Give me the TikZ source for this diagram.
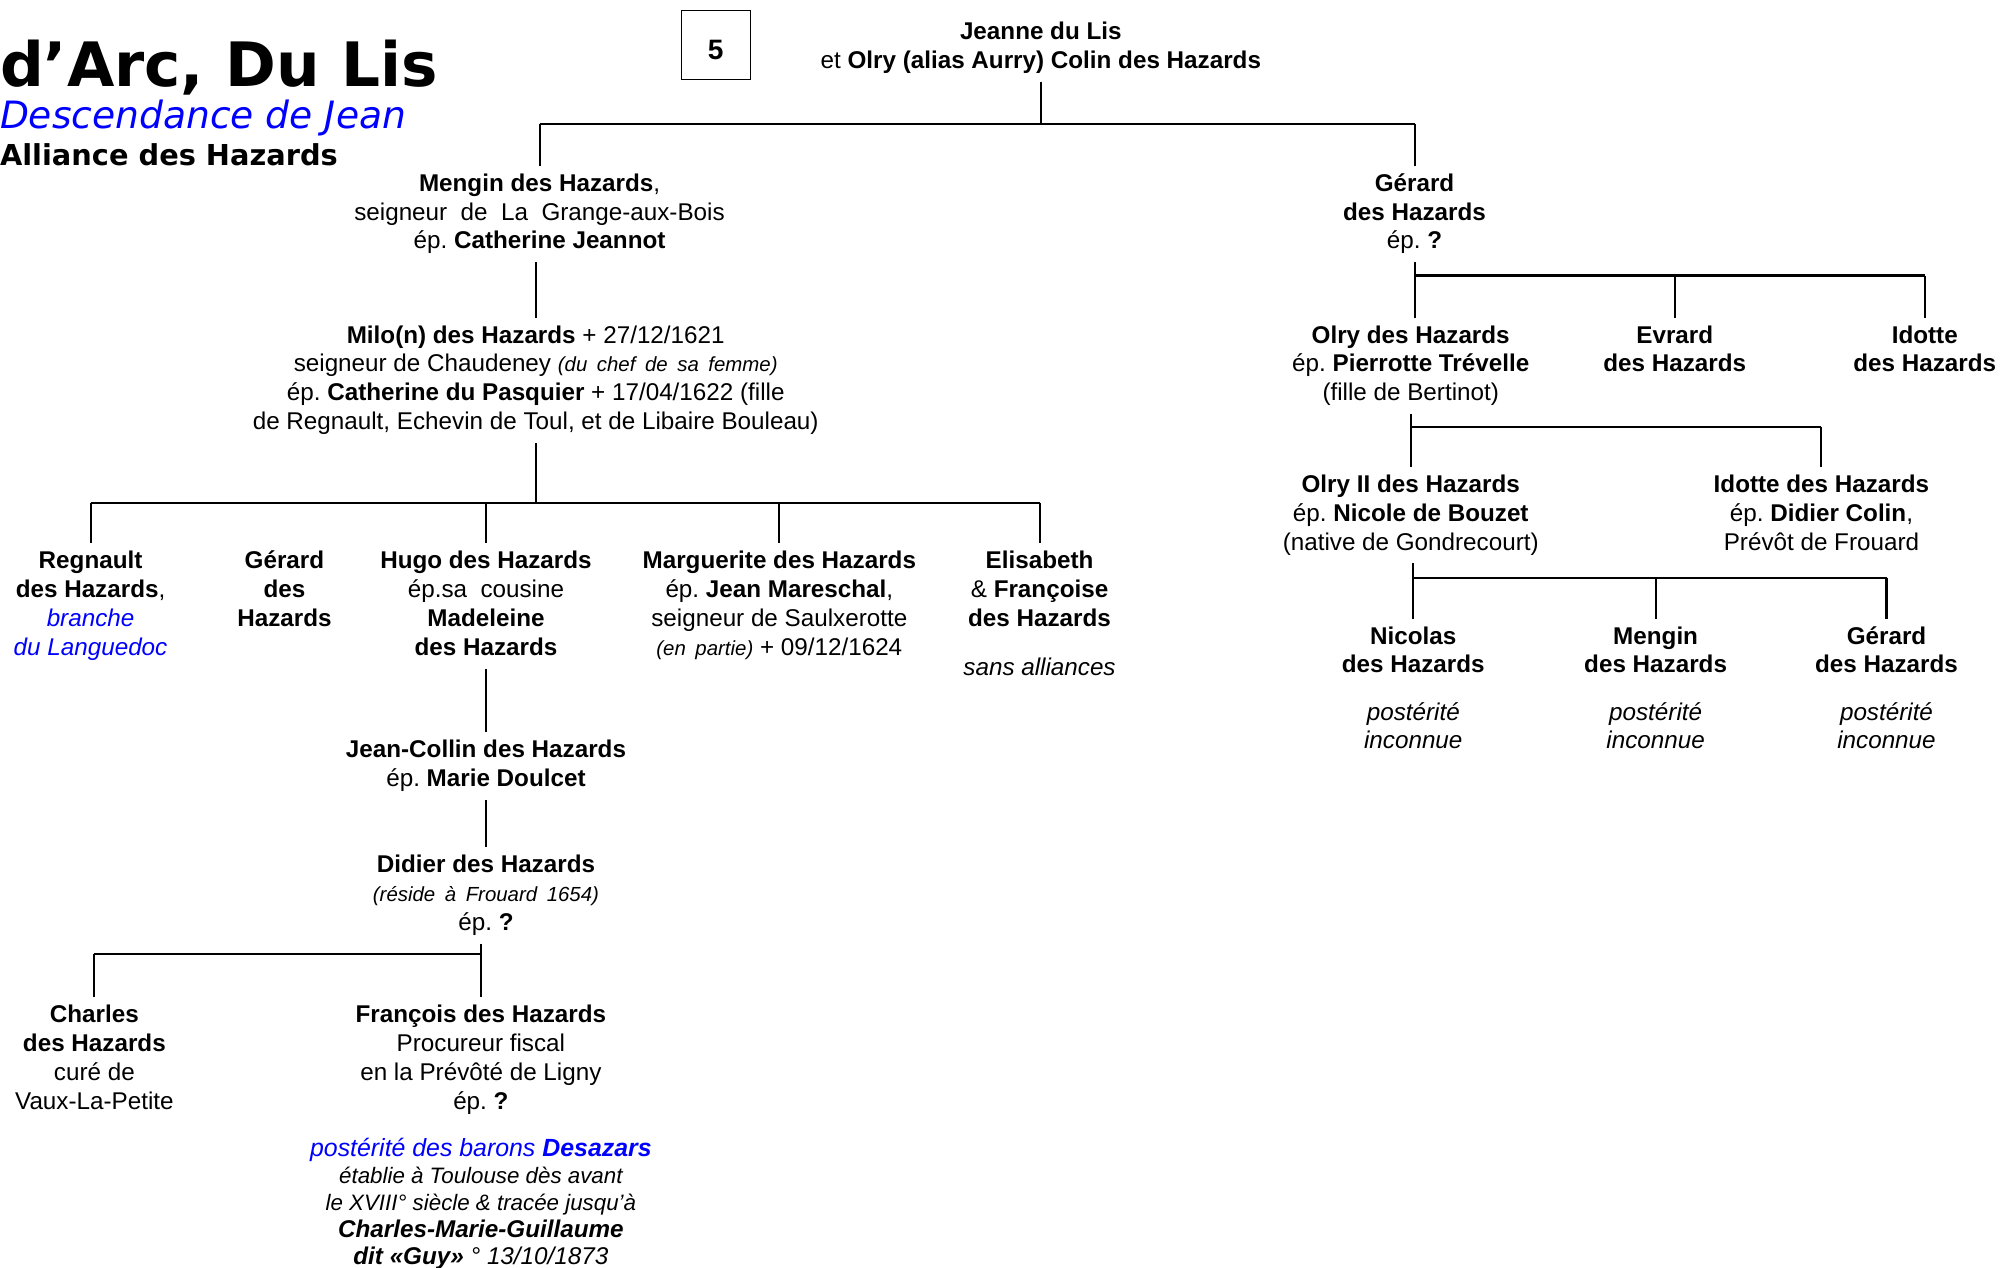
\documentclass[tikz,border=0pt]{standalone}
\usepackage{fontspec}
\setmainfont{Liberation Sans}
\newfontfamily\titlefont{DejaVu Sans}[ItalicFont={DejaVu Sans Oblique},BoldFont={DejaVu Sans Bold}]
\definecolor{lisblue}{RGB}{0,0,255}
\frenchspacing
\newcommand\tp{\rule{0pt}{14pt}}
\newcommand\bt{\rule[-4.5pt]{0pt}{4.5pt}}
\newcommand\smit{\fontsize{16}{22.6}\selectfont\itshape\spaceskip=7.5pt plus 1pt\relax}
\tikzset{
  person/.style={anchor=north, align=center, inner xsep=2pt, inner ysep=6pt, outer sep=0pt,
    font=\fontsize{19}{22.6}\selectfont, yshift=-2pt},
  link/.style={line width=1.6pt},
  titletext/.style={anchor=base west, inner sep=0pt, outer sep=0pt},
}
\begin{document}
\begin{tikzpicture}[x=1pt,y=-1pt]
\path[use as bounding box] (0,0) rectangle (1568,994);

% titles
\node[titletext, font=\titlefont\bfseries\fontsize{48}{50}\selectfont] (title) at (0,68) {d’Arc, Du Lis};
\node[titletext, text=lisblue, font=\titlefont\itshape\fontsize{29.5}{32}\selectfont] (sub) at (0,101) {Descendance de Jean};
\node[titletext, font=\titlefont\bfseries\fontsize{22.6}{24}\selectfont] (alliance) at (0,130) {Alliance des Hazards};
\node[draw, line width=0.8pt, minimum width=54, minimum height=54, inner sep=0pt] (num) at (561,35) {};
\node[inner sep=0pt, font=\bfseries\fontsize{22}{24}\selectfont, yshift=-4pt] (numtext) at (num.center) {5};

% bar levels
\coordinate (b0) at (0,97);
\coordinate (b1) at (0,394);
\coordinate (b2) at (0,748);
\coordinate (b3) at (0,216);
\coordinate (b4) at (0,335);
\coordinate (b5) at (0,453);

% persons
\node[person] (root) at (816,9) {\tp\textbf{Jeanne du Lis}\\et \textbf{Olry (alias Aurry) Colin des Hazards}\bt};
\node[person] (mengin) at (423,128) {\tp\textbf{Mengin des Hazards},\\seigneur~ de~ La~ Grange-aux-Bois\\ép. \textbf{Catherine Jeannot}\bt};
\node[person] (gerardA) at (1109,128) {\tp\textbf{Gérard}\\\textbf{des Hazards}\\ép. \textbf{?}\bt};
\node[person] (milo) at (420,247) {\tp\textbf{Milo(n) des Hazards} + 27/12/1621\\seigneur de Chaudeney {\smit (du chef de sa femme)}\\ép. \textbf{Catherine du Pasquier} + 17/04/1622 (fille\\de Regnault, Echevin de Toul, et de Libaire Bouleau)\bt};

\node[person] (regnault) at (71,424) {\tp\textbf{Regnault}\\\textbf{des Hazards},\\\textcolor{lisblue}{\itshape branche}\\\textcolor{lisblue}{\itshape du Languedoc}\bt};
\node[person] (gerardB) at (223,424) {\tp\textbf{Gérard}\\\textbf{des}\\\textbf{Hazards}\bt};
\node[person] (hugo) at (381,424) {\tp\textbf{Hugo des Hazards}\\ép.sa~~cousine\\\textbf{Madeleine}\\\textbf{des Hazards}\bt};
\node[person] (marguerite) at (611,424) {\tp\textbf{Marguerite des Hazards}\\ép. \textbf{Jean Mareschal},\\seigneur de Saulxerotte\\{\smit (en partie)} + 09/12/1624\bt};
\node[person] (elisabeth) at (815,424) {\tp\textbf{Elisabeth}\\\& \textbf{Françoise}\\\textbf{des Hazards}\\[15.4pt]\textit{sans alliances}\bt};

\node[person] (jeancollin) at (381,572) {\tp\textbf{Jean-Collin des Hazards}\\ép. \textbf{Marie Doulcet}\bt};
\node[person] (didier) at (381,662) {\tp\textbf{Didier des Hazards}\\{\smit (réside à Frouard 1654)}\\ép. \textbf{?}\bt};
\node[person] (charles) at (74,780) {\tp\textbf{Charles}\\\textbf{des Hazards}\\curé de\\Vaux-La-Petite\bt};
\node[person] (francois) at (377,780) {\tp\textbf{François des Hazards}\\Procureur fiscal\\en la Prévôté de Ligny\\ép. \textbf{?}\bt};
\node[person, font=\fontsize{17.5}{21.2}\selectfont\itshape, yshift=1pt] (desazars) at (377,885)
  {\tp\textcolor{lisblue}{\fontsize{19.5}{21.2}\selectfont postérité des barons \textbf{Desazars}}\\
   établie à Toulouse dès avant\\
   le XVIII° siècle \& tracée jusqu’à\\
   {\fontsize{19}{21.2}\selectfont\bfseries Charles-Marie-Guillaume}\\
   {\fontsize{19}{21.2}\selectfont\textbf{dit «Guy»} ° 13/10/1873}};

\node[person] (olry) at (1106,247) {\tp\textbf{Olry des Hazards}\\ép. \textbf{Pierrotte Trévelle}\\(fille de Bertinot)\bt};
\node[person] (evrard) at (1313,247) {\tp\textbf{Evrard}\\\textbf{des Hazards}\bt};
\node[person] (idotteA) at (1509,247) {\tp\textbf{Idotte}\\\textbf{des Hazards}\bt};
\node[person] (olry2) at (1106,364) {\tp\textbf{Olry II des Hazards}\\ép. \textbf{Nicole de Bouzet}\\(native de Gondrecourt)\bt};
\node[person] (idotteB) at (1428,364) {\tp\textbf{Idotte des Hazards}\\ép. \textbf{Didier Colin},\\Prévôt de Frouard\bt};
\node[person] (nicolas) at (1108,483) {\tp\textbf{Nicolas}\\\textbf{des Hazards}\\[14.4pt]\textit{postérité}\\\textit{inconnue}\bt};
\node[person] (menginB) at (1298,483) {\tp\textbf{Mengin}\\\textbf{des Hazards}\\[14.4pt]\textit{postérité}\\\textit{inconnue}\bt};
\node[person] (gerardC) at (1479,483) {\tp\textbf{Gérard}\\\textbf{des Hazards}\\[14.4pt]\textit{postérité}\\\textit{inconnue}\bt};

% connectors
\draw[link] (root.south) -- (root.south |- b0);
\draw[link] (mengin.north |- b0) -- (gerardA.north |- b0);
\draw[link] (mengin.north |- b0) -- (mengin.north);
\draw[link] (gerardA.north |- b0) -- (gerardA.north);

\draw[link] (milo.north |- mengin.south) -- (milo.north);
\draw[link] (milo.south) -- (milo.south |- b1);
\draw[link] (regnault.north |- b1) -- (elisabeth.north |- b1);
\draw[link] (regnault.north |- b1) -- (regnault.north);
\draw[link] (hugo.north |- b1) -- (hugo.north);
\draw[link] (marguerite.north |- b1) -- (marguerite.north);
\draw[link] (elisabeth.north |- b1) -- (elisabeth.north);

\draw[link] (hugo.south) -- (jeancollin.north);
\draw[link] (jeancollin.south) -- (didier.north);
\draw[link] (didier.south -| francois.north) -- (francois.north);
\draw[link] (charles.north |- b2) -- (francois.north |- b2);
\draw[link] (charles.north |- b2) -- (charles.north);

\draw[link] (gerardA.south) -- (gerardA.south |- olry.north);
\draw[link] (gerardA.south |- b3) -- (idotteA.north |- b3);
\draw[link] (evrard.north |- b3) -- (evrard.north);
\draw[link] (idotteA.north |- b3) -- (idotteA.north);

\draw[link] (olry.south) -- (olry2.north);
\draw[link] (olry.south |- b4) -- (idotteB.north |- b4);
\draw[link] (idotteB.north |- b4) -- (idotteB.north);

\draw[link] (olry2.south -| nicolas.north) -- (nicolas.north);
\draw[link] (nicolas.north |- b5) -- (gerardC.north |- b5);
\draw[link] (menginB.north |- b5) -- (menginB.north);
\draw[link] (gerardC.north |- b5) -- (gerardC.north);
\end{tikzpicture}
\end{document}
